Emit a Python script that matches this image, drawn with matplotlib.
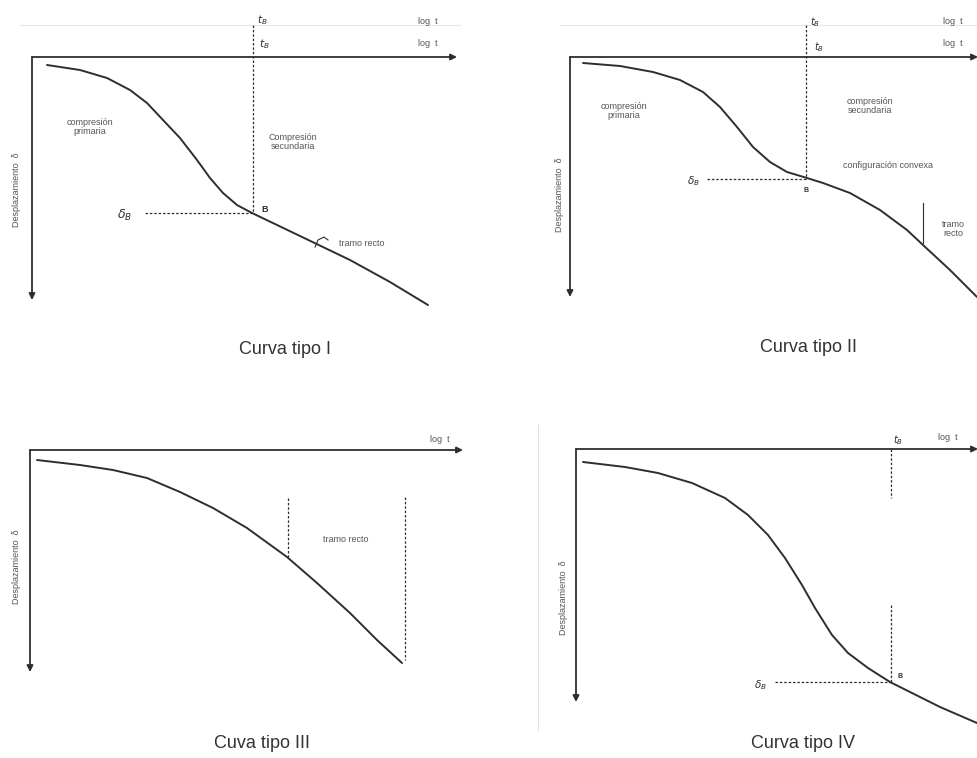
import numpy as np
import matplotlib.pyplot as plt

# --- curvas (coordenadas en pixeles de la imagen) ---
c1_x = [47, 80, 107, 130, 147, 163, 180, 197, 210, 223, 237, 252, 300, 350, 390, 428]
c1_y = [65, 70, 78, 90, 103, 120, 138, 160, 178, 193, 205, 213, 236, 260, 282, 305]

c2_x = [583, 620, 653, 680, 703, 720, 737, 753, 770, 787, 807, 823, 850, 880, 907, 923, 950, 977]
c2_y = [63, 66, 72, 80, 92, 107, 127, 147, 162, 172, 178, 183, 193, 210, 230, 245, 270, 297]

c3_x = [37, 80, 113, 147, 180, 213, 247, 287, 317, 350, 377, 402]
c3_y = [460, 465, 470, 478, 492, 508, 528, 557, 583, 613, 640, 663]

c4_x = [583, 625, 658, 692, 725, 748, 768, 785, 802, 815, 832, 848, 868, 890, 910, 940, 977]
c4_y = [462, 467, 473, 483, 498, 515, 535, 558, 585, 608, 635, 653, 668, 682, 692, 707, 723]

titulos = ["Curva tipo I", "Curva tipo II", "Cuva tipo III", "Curva tipo IV"]
titulo_pos = [(285, 350), (808, 347), (262, 743), (803, 743)]

INK = '#2e2e2e'
plt.rcParams['font.family'] = ['Liberation Sans', 'DejaVu Sans']

fig = plt.figure(figsize=(9.78, 7.58), dpi=100)
ax = fig.add_axes([0, 0, 1, 1])
ax.set_xlim(0, 978)
ax.set_ylim(758, 0)
ax.axis('off')


def ejes(x0, y0, x1, y1):
    # eje de tiempo (horizontal) y de desplazamiento (vertical), con flechas
    ax.annotate('', xy=(x1, y0), xytext=(x0, y0),
                arrowprops=dict(arrowstyle='-|>', color=INK, lw=1.3,
                                shrinkA=0, shrinkB=0, mutation_scale=9))
    ax.annotate('', xy=(x0, y1), xytext=(x0, y0),
                arrowprops=dict(arrowstyle='-|>', color=INK, lw=1.3,
                                shrinkA=0, shrinkB=0, mutation_scale=9))


def curva(xs, ys):
    ax.plot(xs, ys, color=INK, lw=1.4, solid_joinstyle='round', solid_capstyle='round')


def dashed(xs, ys):
    ax.plot(xs, ys, color=INK, lw=0.9, ls=(0, (2, 1.5)))


def small(x, y, s, **kw):
    ax.text(x, y, s, fontsize=6.5, color='#555555', ha='center', va='center',
            linespacing=1.0, **kw)


# --- Curva tipo I ---
ax.plot([20, 460], [25, 25], color='#e6e6e6', lw=0.8)
ejes(32, 57, 457, 300)
curva(c1_x, c1_y)
dashed([253, 253], [25, 213])
dashed([145, 253], [213, 213])
ax.text(125, 215, r'$\delta_B$', fontsize=9, ha='center', va='center', color=INK)
ax.text(265, 210, 'B', fontsize=6.5, ha='center', va='center', color=INK, weight='bold')
ax.text(262, 20, r'$t_B$', fontsize=7.5, ha='center', va='center', color=INK)
ax.text(264, 44, r'$t_B$', fontsize=7.5, ha='center', va='center', color=INK)
small(428, 22, 'log  t')
small(428, 44, 'log  t')
small(90, 127, 'compresión\nprimaria')
small(293, 142, 'Compresión\nsecundaria')
small(362, 243, 'tramo recto')
ax.plot([315, 318, 324, 328], [247, 240, 237, 240], color=INK, lw=0.8)
ax.text(17, 190, 'Desplazamiento  δ', rotation=90, fontsize=6.5, color='#555555',
        ha='center', va='center')

# --- Curva tipo II ---
ax.plot([560, 978], [25, 25], color='#e6e6e6', lw=0.8)
ejes(570, 57, 978, 297)
curva(c2_x, c2_y)
dashed([806, 806], [25, 179])
dashed([707, 806], [179, 179])
ax.text(693, 181, r'$\delta_B$', fontsize=7.5, ha='center', va='center', color=INK)
ax.text(806, 190, 'B', fontsize=5, ha='center', va='center', color=INK, weight='bold')
ax.text(815, 22, r'$t_B$', fontsize=7, ha='center', va='center', color=INK)
ax.text(819, 47, r'$t_B$', fontsize=7, ha='center', va='center', color=INK)
small(953, 22, 'log  t')
small(953, 44, 'log  t')
small(624, 111, 'compresión\nprimaria')
small(870, 106, 'compresión\nsecundaria')
small(888, 166, 'configuración convexa')
small(953, 229, 'tramo\nrecto')
ax.plot([923, 923], [203, 243], color=INK, lw=0.8)
ax.text(560, 195, 'Desplazamiento  δ', rotation=90, fontsize=6.5, color='#555555',
        ha='center', va='center')

# --- Curva tipo III ---
ejes(30, 450, 463, 672)
curva(c3_x, c3_y)
dashed([288, 288], [498, 557])
dashed([405, 405], [497, 660])
small(346, 540, 'tramo recto')
small(440, 440, 'log  t')
ax.text(17, 567, 'Desplazamiento  δ', rotation=90, fontsize=6.5, color='#555555',
        ha='center', va='center')

# --- Curva tipo IV ---
ax.plot([538, 538], [425, 730], color='#e0e0e0', lw=0.8)
ejes(576, 449, 978, 702)
curva(c4_x, c4_y)
dashed([891, 891], [449, 498])
dashed([891, 891], [605, 682])
dashed([775, 891], [682, 682])
ax.text(760, 685, r'$\delta_B$', fontsize=7.5, ha='center', va='center', color=INK)
ax.text(900, 677, 'B', fontsize=5, ha='center', va='center', color=INK, weight='bold')
ax.text(898, 440, r'$t_B$', fontsize=7, ha='center', va='center', color=INK)
small(948, 438, 'log  t')
ax.text(563, 598, 'Desplazamiento  δ', rotation=90, fontsize=6.5, color='#555555',
        ha='center', va='center')

for t, (x, y) in zip(titulos, titulo_pos):
    ax.text(x, y, t, fontsize=13, color='#333333', ha='center', va='center')

fig.savefig('out.png', dpi=100, facecolor='white')
